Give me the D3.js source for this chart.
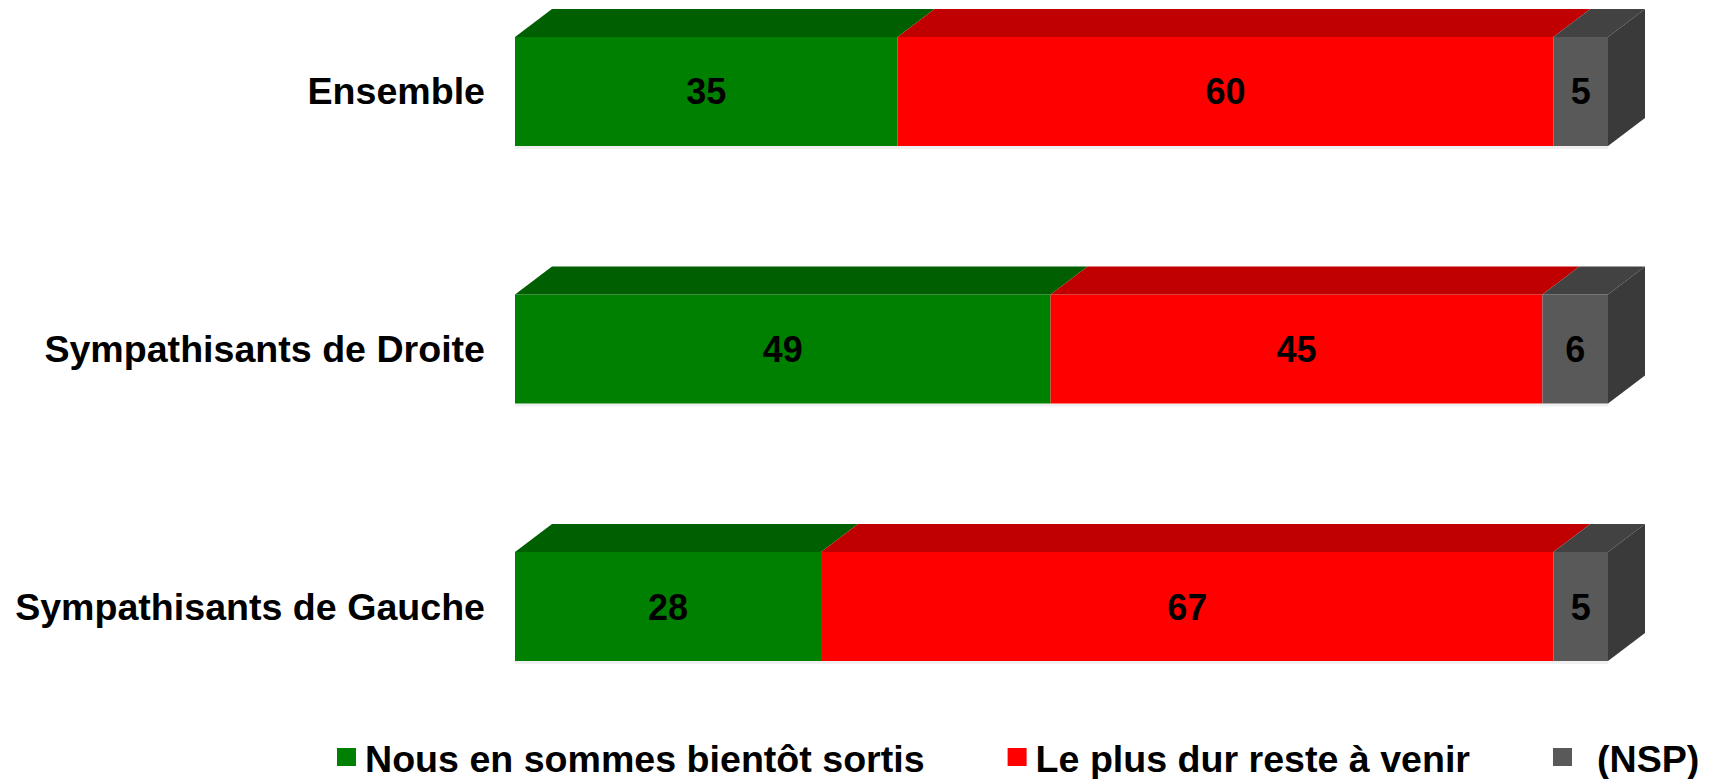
<!DOCTYPE html>
<html><head><meta charset="utf-8">
<script src="https://cdn.jsdelivr.net/npm/d3@7"></script>
<style>html,body{margin:0;padding:0;background:#fff;}svg{display:block;}text{font-family:"Liberation Sans",Arial,sans-serif;font-weight:bold;fill:#000;}</style>
</head><body>
<svg id="chart" width="1716" height="779"></svg>
<script>
const categories = ["Ensemble", "Sympathisants de Droite", "Sympathisants de Gauche"];
const seriesNames = ["Nous en sommes bientôt sortis", "Le plus dur reste à venir", "(NSP)"];
const sortis = [35, 49, 28];
const plusDur = [60, 45, 67];
const nsp = [5, 6, 5];

const front = ["#008000", "#ff0000", "#595959"];
const topC = ["#005f00", "#c00000", "#424242"];
const sideC = "#3a3a3a";

const svg = d3.select("#chart");
const x = d3.scaleLinear().domain([0, 100]).range([515, 1608]);
const y = d3.scaleBand().domain(categories).range([37, 661]).paddingInner(0.5767).paddingOuter(0);
const dx = 37, dy = 28;

const rows = categories.map((c, i) => ({cat: c, vals: [sortis[i], plusDur[i], nsp[i]]}));
const stackData = rows.map(r => { let acc = 0; return r.vals.map((v, k) => { const s = {cat: r.cat, k, v, x0: acc, x1: acc + v}; acc += v; return s; }); });

const g = svg.append("g");
stackData.forEach(segs => {
  const cat = segs[0].cat;
  const yt = y(cat), yb = yt + y.bandwidth();
  const gg = g.append("g");
  gg.append("rect").attr("x", x(0)).attr("y", yb).attr("width", x(100) - x(0)).attr("height", 3).attr("fill", "#f0f0f0");
  segs.forEach(s => {
    const a = x(s.x0), b = x(s.x1);
    gg.append("rect").attr("x", a).attr("y", yt).attr("width", b - a).attr("height", yb - yt).attr("fill", front[s.k]);
    gg.append("path").attr("d", `M${a},${yt}L${b},${yt}L${b+dx},${yt-dy}L${a+dx},${yt-dy}Z`).attr("fill", topC[s.k]);
  });
  const last = segs[segs.length - 1];
  const e = x(last.x1);
  gg.append("path").attr("d", `M${e},${yt}L${e+dx},${yt-dy}L${e+dx},${yb-dy}L${e},${yb}Z`).attr("fill", sideC);
  segs.forEach(s => {
    gg.append("text").attr("x", (x(s.x0) + x(s.x1)) / 2).attr("y", (yt + yb) / 2 + 13)
      .attr("text-anchor", "middle").style("font-size", "36px").text(s.v);
  });
  g.append("text").attr("x", 485).attr("y", (yt + yb) / 2 + 13).attr("text-anchor", "end")
    .style("font-size", "37.6px").text(cat);
});

// legend
const leg = svg.append("g");
let lx = 337;
seriesNames.forEach((n, k) => {
  const off = k === seriesNames.length - 1 ? 44 : 28;
  leg.append("rect").attr("x", lx).attr("y", 748).attr("width", 19).attr("height", 18).attr("fill", front[k]);
  const t = leg.append("text").attr("x", lx + off).attr("y", 772).style("font-size", "37.6px").text(n);
  const w = t.node().getComputedTextLength();
  lx = lx + off + w + 83;
});
</script>
</body></html>
